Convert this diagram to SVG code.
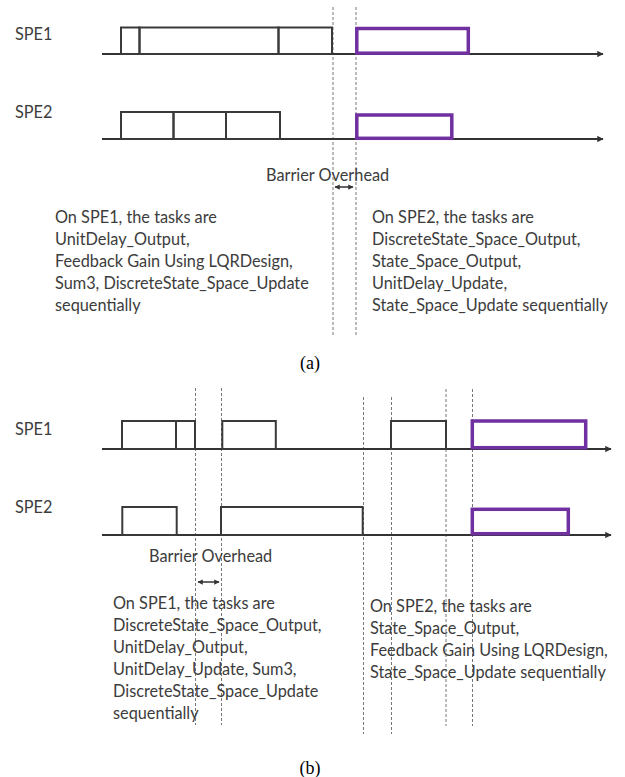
<svg xmlns="http://www.w3.org/2000/svg" width="625" height="777" viewBox="0 0 625 777">
<defs>
<style>
.lbl{font-family:Lato,"Liberation Sans",sans-serif;font-size:16.3px;fill:#3c3c3c}
.cap{font-family:"Liberation Serif",serif;font-size:18px;fill:#000;text-anchor:middle}
.box{fill:none;stroke:#3a3a3a;stroke-width:2}
.pbox{fill:none;stroke:#7030A0;stroke-width:3.5}
.axis{fill:none;stroke:#333;stroke-width:2}
.dash{fill:none;stroke:#777;stroke-width:1;stroke-dasharray:3 2}
.dbl{fill:none;stroke:#333;stroke-width:1.5}
</style>
<marker id="ah" viewBox="0 0 10 10" refX="9" refY="5" markerWidth="3.2" markerHeight="3.2" orient="auto">
<path d="M0,0 L10,5 L0,10 z" fill="#333"/>
</marker>
<marker id="dh" viewBox="0 0 10 10" refX="9" refY="5" markerWidth="3.5" markerHeight="3.5" orient="auto-start-reverse">
<path d="M0,0 L10,5 L0,10 z" fill="#333"/>
</marker>
</defs>
<rect width="625" height="777" fill="#fff"/>

<g id="connectors">
<line class="dash" x1="333" y1="7" x2="333" y2="335"/>
<line class="dash" x1="356" y1="7" x2="356" y2="335"/>
<line class="axis" x1="102" y1="54" x2="603" y2="54" marker-end="url(#ah)"/>
<line class="axis" x1="102" y1="139" x2="603" y2="139" marker-end="url(#ah)"/>
<line class="dbl" x1="335" y1="187" x2="353" y2="187" marker-start="url(#dh)" marker-end="url(#dh)"/>

<line class="dash" x1="195.5" y1="388" x2="195.5" y2="725"/>
<line class="dash" x1="221.5" y1="388" x2="221.5" y2="725"/>
<line class="dash" x1="363.5" y1="397" x2="363.5" y2="734"/>
<line class="dash" x1="391.5" y1="397" x2="391.5" y2="734"/>
<line class="dash" x1="446" y1="389" x2="446" y2="726"/>
<line class="dash" x1="472.5" y1="389" x2="472.5" y2="726"/>
<line class="axis" x1="102" y1="449" x2="611" y2="449" marker-end="url(#ah)"/>
<line class="axis" x1="102" y1="535" x2="611" y2="535" marker-end="url(#ah)"/>
<line class="dbl" x1="198" y1="582" x2="219" y2="582" marker-start="url(#dh)" marker-end="url(#dh)"/>
</g>

<g id="a-labels">
<text class="lbl" x="15" y="40">SPE1</text>
<text class="lbl" x="15" y="118">SPE2</text>
<text class="lbl" x="266" y="181">Barrier Overhead</text>
</g>

<g id="a-spe1-t1"><rect class="box" x="121" y="27.5" width="18.5" height="26.5"/></g>
<g id="a-spe1-t2"><rect class="box" x="139.5" y="27.5" width="139" height="26.5"/></g>
<g id="a-spe1-t3"><rect class="box" x="278.5" y="27.5" width="53.5" height="26.5"/></g>
<g id="a-spe1-p"><rect class="pbox" x="356.8" y="28.5" width="111.5" height="24.7"/></g>

<g id="a-spe2-t1"><rect class="box" x="121" y="112" width="52.5" height="27"/></g>
<g id="a-spe2-t2"><rect class="box" x="173.5" y="112" width="52.5" height="27"/></g>
<g id="a-spe2-t3"><rect class="box" x="226" y="112" width="54" height="27"/></g>
<g id="a-spe2-p"><rect class="pbox" x="356.8" y="115" width="95" height="23.3"/></g>

<g id="a-text-left">
<text class="lbl" x="55" y="223">On SPE1, the tasks are</text>
<text class="lbl" x="55" y="245">UnitDelay_Output,</text>
<text class="lbl" x="55" y="267">Feedback Gain Using LQRDesign,</text>
<text class="lbl" x="55" y="289">Sum3, DiscreteState_Space_Update</text>
<text class="lbl" x="55" y="311">sequentially</text>
</g>
<g id="a-text-right">
<text class="lbl" x="372" y="223">On SPE2, the tasks are</text>
<text class="lbl" x="372" y="245">DiscreteState_Space_Output,</text>
<text class="lbl" x="372" y="267">State_Space_Output,</text>
<text class="lbl" x="372" y="289">UnitDelay_Update,</text>
<text class="lbl" x="372" y="311">State_Space_Update sequentially</text>
</g>
<text class="cap" x="310" y="369">(a)</text>

<g id="b-labels">
<text class="lbl" x="15" y="435">SPE1</text>
<text class="lbl" x="15" y="513">SPE2</text>
<text class="lbl" x="149" y="562">Barrier Overhead</text>
</g>

<g id="b-spe1-t1"><rect class="box" x="122" y="421" width="54" height="28"/></g>
<g id="b-spe1-t2"><rect class="box" x="176" y="421" width="19" height="28"/></g>
<g id="b-spe1-t3"><rect class="box" x="222.3" y="421" width="53.5" height="28"/></g>
<g id="b-spe1-t4"><rect class="box" x="391" y="421" width="55" height="28"/></g>
<g id="b-spe1-p"><rect class="pbox" x="472.3" y="421" width="113.4" height="26.7"/></g>

<g id="b-spe2-t1"><rect class="box" x="122.3" y="507" width="54.4" height="28"/></g>
<g id="b-spe2-t2"><rect class="box" x="221" y="507" width="141.7" height="28"/></g>
<g id="b-spe2-p"><rect class="pbox" x="472.3" y="509.3" width="96" height="24.4"/></g>

<g id="b-text-left">
<text class="lbl" x="113" y="609">On SPE1, the tasks are</text>
<text class="lbl" x="113" y="631">DiscreteState_Space_Output,</text>
<text class="lbl" x="113" y="653">UnitDelay_Output,</text>
<text class="lbl" x="113" y="675">UnitDelay_Update, Sum3,</text>
<text class="lbl" x="113" y="697">DiscreteState_Space_Update</text>
<text class="lbl" x="113" y="719">sequentially</text>
</g>
<g id="b-text-right">
<text class="lbl" x="370" y="612">On SPE2, the tasks are</text>
<text class="lbl" x="370" y="634">State_Space_Output,</text>
<text class="lbl" x="370" y="656">Feedback Gain Using LQRDesign,</text>
<text class="lbl" x="370" y="678">State_Space_Update sequentially</text>
</g>
<text class="cap" x="310" y="774">(b)</text>
</svg>
